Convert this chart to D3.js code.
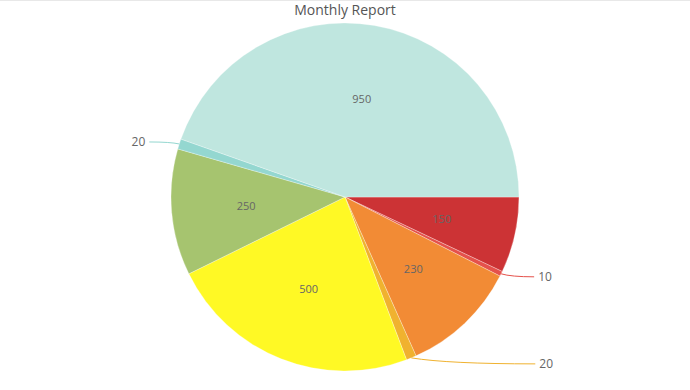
<html>
<head>
<script src="https://d3js.org/d3.v7.min.js"></script>
<style>
  body { margin: 0; background: #fff; }
  text { font-family: "Open Sans", sans-serif; }
</style>
</head>
<body>
<svg id="chart" width="690" height="390"></svg>
<script>
// slices listed clockwise starting at 3 o'clock
const values = [150, 10, 230, 20, 500, 250, 20, 950];
const colors = ["#cc3335", "#e5514b", "#f28b35", "#f0b22f", "#fff925", "#a6c46f", "#94d7d0", "#bfe6df"];
const outside = [false, true, false, true, false, false, true, false];

// leader line end offsets for small slices (from outer edge)
const leaders = { 1: [33, 3], 3: [124, 6], 6: [-30, -2] };

const svg = d3.select("#chart");
const width = +svg.attr("width");
const cx = 345, cy = 197, radius = 174;

svg.append("line")
    .attr("x1", 0).attr("x2", width).attr("y1", 0.5).attr("y2", 0.5)
    .style("stroke", "#e8e8e8");

svg.append("text")
    .attr("x", cx).attr("y", 15)
    .attr("text-anchor", "middle")
    .style("font-size", "14px")
    .style("fill", "#555")
    .text("Monthly Report");

const pie = d3.pie().sort(null).value(d => d)
    .startAngle(Math.PI / 2).endAngle(Math.PI / 2 + 2 * Math.PI);
const arcs = pie(values);

const arc = d3.arc().innerRadius(0).outerRadius(radius);
const labelArc = d3.arc().innerRadius(radius * 0.57).outerRadius(radius * 0.57);

const g = svg.append("g").attr("transform", `translate(${cx},${cy})`);

g.selectAll("path.slice").data(arcs)
    .join("path")
    .attr("class", "slice")
    .attr("d", arc)
    .style("fill", (d, i) => colors[i])
    .style("stroke", "#fff")
    .style("stroke-width", 0.3);

g.selectAll("text.inner").data(arcs.filter((d, i) => !outside[i]))
    .join("text")
    .attr("class", "inner")
    .attr("transform", d => `translate(${labelArc.centroid(d)})`)
    .attr("text-anchor", "middle")
    .attr("dy", "0.35em")
    .style("font-size", "11px")
    .style("fill", "#666")
    .text(d => d.data);

arcs.forEach((d, i) => {
    if (!outside[i]) return;
    const mid = (d.startAngle + d.endAngle) / 2;
    const x0 = Math.sin(mid) * radius, y0 = -Math.cos(mid) * radius;
    const [dx, dy] = leaders[i];
    const x1 = x0 + dx, y1 = y0 + dy;
    g.append("path")
        .attr("d", `M${x0},${y0} Q${x0 + dx * 0.3},${y1} ${x1},${y1}`)
        .style("fill", "none")
        .style("stroke", colors[i])
        .style("stroke-width", 1);
    g.append("text")
        .attr("x", x1 + (dx > 0 ? 4 : -4))
        .attr("y", y1)
        .attr("dy", "0.35em")
        .attr("text-anchor", dx > 0 ? "start" : "end")
        .style("font-size", "12px")
        .style("fill", "#666")
        .text(d.data);
});
</script>
</body>
</html>
